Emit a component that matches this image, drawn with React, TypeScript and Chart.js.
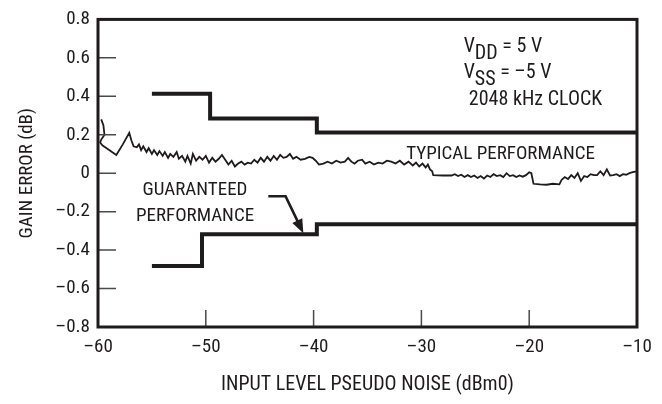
import React, { useEffect, useRef } from "react";
import { Chart, registerables } from "chart.js";

Chart.register(...registerables);

const X_TICKS = [-60, -50, -40, -30, -20, -10];
const Y_TICKS = [-0.8, -0.6, -0.4, -0.2, 0, 0.2, 0.4, 0.6, 0.8];

const typX = [
  -59.7, -59.5, -59.4, -59.7, -59.8, -59.6, -59.2, -58.7, -58.3, -57.7, -57.1, -56.9, -56.7, -56.4, -56.2, -56.0,
  -55.8, -55.5, -55.3, -55.0, -54.8, -54.5, -54.3, -54.0, -53.8, -53.5, -53.3, -53.0, -52.7, -52.5, -52.2, -51.9,
  -51.7, -51.4, -51.2, -50.9, -50.6, -50.3, -50.0, -49.7, -49.4, -49.1, -48.8, -48.5, -48.2, -47.9, -47.6, -47.3,
  -47.0, -46.7, -46.4, -46.1, -45.8, -45.5, -45.2, -44.9, -44.6, -44.3, -44.0, -43.7, -43.4, -43.1, -42.8, -42.5,
  -42.2, -41.9, -41.6, -41.2, -40.8, -40.4, -40.1, -39.8, -39.5, -39.1, -38.7, -38.3, -37.9, -37.5, -37.1, -36.8,
  -36.5, -36.2, -35.9, -35.5, -35.2, -34.8, -34.4, -34.0, -33.6, -33.2, -32.8, -32.4, -32.0, -31.6, -31.2, -30.8,
  -30.5, -30.2, -29.9, -29.6, -29.4, -29.2, -29.0, -28.9, -28.0, -27.2, -26.9, -26.6, -26.3, -26.0, -25.7, -25.4,
  -25.1, -24.8, -24.5, -24.2, -23.9, -23.6, -23.3, -23.0, -22.7, -22.4, -22.1, -21.8, -21.5, -21.2, -20.9, -20.6,
  -20.3, -20.0, -19.8, -19.6, -19.0, -18.4, -17.8, -17.2, -17.0, -16.7, -16.4, -16.1, -15.8, -15.5, -15.2, -14.9,
  -14.6, -14.3, -14.0, -13.7, -13.4, -13.1, -12.8, -12.5, -12.2, -11.9, -11.6, -11.3, -11.0, -10.7, -10.4, -10.0,
];
const typY = [
  0.28, 0.25, 0.2, 0.175, 0.16, 0.145, 0.13, 0.11, 0.095, 0.15, 0.21, 0.17, 0.14, 0.135, 0.15, 0.12,
  0.14, 0.11, 0.13, 0.1, 0.12, 0.095, 0.115, 0.09, 0.11, 0.08, 0.1, 0.085, 0.11, 0.075, 0.09, 0.06,
  0.09, 0.05, 0.1, 0.065, 0.085, 0.07, 0.09, 0.055, 0.08, 0.06, 0.075, 0.095, 0.07, 0.045, 0.065, 0.035,
  0.05, 0.06, 0.045, 0.055, 0.05, 0.07, 0.055, 0.08, 0.06, 0.085, 0.065, 0.09, 0.07, 0.095, 0.08, 0.085,
  0.1, 0.075, 0.085, 0.07, 0.075, 0.085, 0.08, 0.065, 0.045, 0.05, 0.06, 0.05, 0.065, 0.055, 0.06, 0.08,
  0.06, 0.05, 0.065, 0.07, 0.05, 0.06, 0.045, 0.055, 0.05, 0.065, 0.06, 0.05, 0.065, 0.045, 0.06, 0.04,
  0.055, 0.035, 0.05, 0.03, 0.045, 0.02, 0.01, -0.01, -0.012, -0.012, -0.005, -0.015, -0.008, -0.02, -0.01, -0.02,
  -0.012, -0.025, -0.015, -0.028, -0.012, -0.02, -0.005, -0.015, -0.01, -0.02, 0.0, -0.015, -0.01, -0.02, -0.012, -0.018,
  -0.01, 0.005, 0.0, -0.055, -0.058, -0.06, -0.055, -0.058, -0.035, -0.02, -0.03, -0.01, -0.025, 0.0, -0.04, -0.015,
  -0.02, -0.005, -0.01, -0.01, 0.01, -0.01, 0.02, -0.012, -0.01, -0.005, -0.015, -0.005, -0.008, 0.0, 0.005, 0.01,
];

const guarUpperX = [-55, -49.6, -49.6, -39.7, -39.7, -10];
const guarUpperY = [0.413, 0.413, 0.285, 0.285, 0.212, 0.212];
const guarLowerX = [-55, -50.35, -50.35, -39.7, -39.7, -10];
const guarLowerY = [-0.483, -0.483, -0.318, -0.318, -0.265, -0.265];

// annotation anchors (data units)
const NOTE_TYPICAL = { text: "TYPICAL PERFORMANCE", x: -31.4, y: 0.074 };
const NOTE_GUAR = { lines: ["GUARANTEED", "PERFORMANCE"], x: -51.0, y: [-0.115, -0.248] };
const NOTE_COND = { x: [-26.08, -26.08, -25.6], y: [0.631, 0.493, 0.355] };
const ARROW = { x: [-44.2, -42.6, -40.95], y: [-0.12, -0.12, -0.312] };

const INK = "#1e1b1c";
const FONT = '"Liberation Sans Narrow", "Roboto Condensed", "Liberation Sans", sans-serif';

const fmtY = (v: number) => (v === 0 ? "0" : (v < 0 ? "\u2013" : "") + Math.abs(v).toFixed(1));
const fmtX = (v: number) => (v < 0 ? "\u2013" : "") + Math.abs(v);

const overlay = {
  id: "overlay",
  afterDatasetsDraw(chart: any) {
    const { ctx, chartArea: a, scales } = chart;
    const xs = scales.x;
    const ys = scales.y;
    const px = (v: number) => xs.getPixelForValue(v);
    const py = (v: number) => ys.getPixelForValue(v);
    ctx.save();
    // inward ticks
    ctx.strokeStyle = "#4a4a4a";
    ctx.lineWidth = 1.5;
    ctx.beginPath();
    for (const v of X_TICKS.slice(1, -1)) {
      ctx.moveTo(px(v), a.bottom);
      ctx.lineTo(px(v), a.bottom - 17);
    }
    for (const v of Y_TICKS.slice(1, -1)) {
      ctx.moveTo(a.left, py(v));
      ctx.lineTo(a.left + 18, py(v));
    }
    ctx.stroke();
    // frame
    ctx.strokeStyle = INK;
    ctx.lineWidth = 3;
    ctx.strokeRect(a.left, a.top, a.right - a.left, a.bottom - a.top);

    // texts
    ctx.fillStyle = INK;
    ctx.font = `19px ${FONT}`;
    ctx.textBaseline = "alphabetic";
    ctx.textAlign = "left";
    ctx.fillText(NOTE_TYPICAL.text, px(NOTE_TYPICAL.x), py(NOTE_TYPICAL.y));
    ctx.textAlign = "center";
    NOTE_GUAR.lines.forEach((t, i) => ctx.fillText(t, px(NOTE_GUAR.x), py(NOTE_GUAR.y[i])));
    ctx.textAlign = "left";
    ctx.font = `20px ${FONT}`;
    const sub = (main: string, s: string, rest: string, i: number) => {
      const by = py(NOTE_COND.y[i]);
      let x0 = px(NOTE_COND.x[i]);
      ctx.fillText(main, x0, by);
      x0 += ctx.measureText(main).width;
      ctx.fillText(s, x0, by + 7);
      x0 += ctx.measureText(s).width;
      ctx.fillText(rest, x0, by);
    };
    sub("V", "DD", " = 5 V", 0);
    sub("V", "SS", " = \u20135 V", 1);
    ctx.fillText("2048 kHz CLOCK", px(NOTE_COND.x[2]), py(NOTE_COND.y[2]));

    // arrow
    const ax = ARROW.x.map(px);
    const ay = ARROW.y.map(py);
    const dx = ax[2] - ax[1];
    const dy = ay[2] - ay[1];
    const len = Math.hypot(dx, dy);
    const ux = dx / len;
    const uy = dy / len;
    const hl = 14;
    const hw = 5.5;
    ctx.strokeStyle = INK;
    ctx.lineWidth = 2.6;
    ctx.lineJoin = "miter";
    ctx.beginPath();
    ctx.moveTo(ax[0], ay[0]);
    ctx.lineTo(ax[1], ay[1]);
    ctx.lineTo(ax[2] - ux * hl * 0.8, ay[2] - uy * hl * 0.8);
    ctx.stroke();
    ctx.beginPath();
    ctx.moveTo(ax[2], ay[2]);
    ctx.lineTo(ax[2] - ux * hl - uy * hw, ay[2] - uy * hl + ux * hw);
    ctx.lineTo(ax[2] - ux * hl + uy * hw, ay[2] - uy * hl - ux * hw);
    ctx.closePath();
    ctx.fill();
    ctx.restore();
  },
};

export default function App() {
  const ref = useRef<HTMLCanvasElement>(null);
  useEffect(() => {
    document.body.style.margin = "0";
    const canvas = ref.current;
    if (!canvas) return;
    const step = { borderColor: INK, borderWidth: 4, pointRadius: 0, showLine: true, borderCapStyle: "butt", borderJoinStyle: "miter" };
    const chart = new Chart(canvas, {
      type: "scatter",
      data: {
        datasets: [
          {
            data: typX.map((x, i) => ({ x, y: typY[i] })),
            showLine: true,
            borderColor: INK,
            borderWidth: 1.8,
            pointRadius: 0,
            tension: 0,
          },
          { ...step, data: guarUpperX.map((x, i) => ({ x, y: guarUpperY[i] })) },
          { ...step, data: guarLowerX.map((x, i) => ({ x, y: guarLowerY[i] })) },
        ] as any,
      },
      options: {
        animation: false,
        responsive: false,
        maintainAspectRatio: false,
        layout: { padding: { top: 15, right: 25, left: 0, bottom: 0 } },
        plugins: { legend: { display: false }, tooltip: { enabled: false } },
        scales: {
          x: {
            type: "linear",
            min: -60,
            max: -10,
            afterBuildTicks: (s: any) => {
              s.ticks = X_TICKS.map((v) => ({ value: v }));
            },
            afterFit: (s: any) => {
              s.height = 77;
            },
            ticks: {
              callback: (v: any) => fmtX(Number(v)),
              font: { family: FONT, size: 19 },
              color: INK,
              padding: 9,
              maxRotation: 0,
              autoSkip: false,
            },
            grid: { display: false, drawTicks: false },
            border: { display: false },
            title: {
              display: true,
              text: "INPUT LEVEL PSEUDO NOISE (dBm0)",
              font: { family: FONT, size: 20 },
              color: INK,
              padding: { top: 0, bottom: 7 },
            },
          },
          y: {
            type: "linear",
            min: -0.8,
            max: 0.8,
            afterBuildTicks: (s: any) => {
              s.ticks = Y_TICKS.map((v) => ({ value: v }));
            },
            afterFit: (s: any) => {
              s.width = 98;
            },
            ticks: {
              callback: (v: any) => fmtY(Number(v)),
              font: { family: FONT, size: 19 },
              color: INK,
              padding: 8,
              autoSkip: false,
            },
            grid: { display: false, drawTicks: false },
            border: { display: false },
            title: {
              display: true,
              text: "GAIN ERROR (dB)",
              font: { family: FONT, size: 19 },
              color: INK,
              padding: { top: 16, bottom: 0 },
            },
          },
        },
      } as any,
      plugins: [overlay],
    });
    return () => chart.destroy();
  }, []);
  return (
    <div style={{ position: "absolute", left: 0, top: 0, width: 662, height: 404, background: "#fff" }}>
      <canvas ref={ref} width={662} height={404} style={{ display: "block" }} />
    </div>
  );
}
